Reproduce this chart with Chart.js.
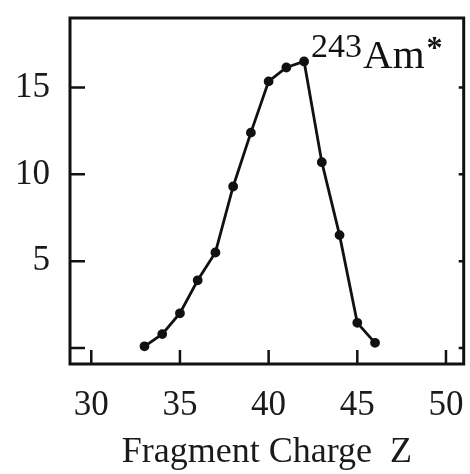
<!DOCTYPE html>
<html>
<head>
<meta charset="utf-8">
<script src="https://cdn.jsdelivr.net/npm/chart.js@4.4.1/dist/chart.umd.min.js"></script>
<style>
  html, body { margin: 0; padding: 0; background: #fff; }
  #wrap { width: 470px; height: 474px; }
</style>
</head>
<body>
<div id="wrap"><canvas id="yieldChart"></canvas></div>
<script>
// fragment charge Z and yield
const chargeZ = [33, 34, 35, 36, 37, 38, 39, 40, 41, 42, 43, 44, 45, 46];
const yieldValues = [0.1, 0.8, 2.0, 3.9, 5.5, 9.3, 12.4, 15.35, 16.15, 16.5, 10.7, 6.5, 1.45, 0.3];
const xTickValues = [30, 35, 40, 45, 50];
const yTickValues = [0, 5, 10, 15];
const peakLabel = { sup: '243', main: 'Am', star: '*' };

const serif = "'Liberation Serif', 'DejaVu Serif', serif";

// frame, inward ticks and the nucleus label
const framePlugin = {
    id: 'frame',
    afterDraw(chart) {
        const { ctx, chartArea: a, scales } = chart;
        ctx.save();
        ctx.strokeStyle = '#111';
        ctx.lineWidth = 3;
        ctx.strokeRect(a.left, a.top, a.right - a.left, a.bottom - a.top);

        ctx.lineWidth = 2.5;
        ctx.beginPath();
        yTickValues.forEach(v => {
            const y = scales.y.getPixelForValue(v);
            ctx.moveTo(a.left, y);
            ctx.lineTo(a.left + 15, y);
            ctx.moveTo(a.right, y);
            ctx.lineTo(a.right - 5, y);
        });
        xTickValues.forEach(v => {
            const x = scales.x.getPixelForValue(v);
            ctx.moveTo(x, a.bottom);
            ctx.lineTo(x, a.bottom - 14);
        });
        ctx.stroke();

        // label anchored at the peak point
        const i = yieldValues.indexOf(Math.max(...yieldValues));
        let x = scales.x.getPixelForValue(chargeZ[i]) + 7;
        const y = scales.y.getPixelForValue(yieldValues[i]);
        ctx.fillStyle = '#111';
        ctx.textBaseline = 'alphabetic';
        ctx.textAlign = 'left';
        ctx.font = '34px ' + serif;
        ctx.fillText(peakLabel.sup, x, y - 4);
        x += ctx.measureText(peakLabel.sup).width + 1;
        ctx.font = '41px ' + serif;
        ctx.fillText(peakLabel.main, x, y + 7);
        x += ctx.measureText(peakLabel.main).width + 2;
        ctx.font = 'bold 32px ' + serif;
        ctx.fillText(peakLabel.star, x, y - 3);
        ctx.restore();
    }
};

// drop the label overflow padding so the plot box sits where the figure has it
function noEdgePadding(s) {
    s.paddingTop = 0;
    s.paddingBottom = 0;
    s.paddingLeft = 0;
    s.paddingRight = 0;
}

new Chart(document.getElementById('yieldChart'), {
    type: 'scatter',
    data: {
        datasets: [{
            data: chargeZ.map((z, i) => ({ x: z, y: yieldValues[i] })),
            showLine: true,
            borderColor: '#111',
            borderWidth: 2.8,
            backgroundColor: '#111',
            pointRadius: 3.5,
            pointHoverRadius: 3.5,
            tension: 0
        }]
    },
    options: {
        responsive: true,
        maintainAspectRatio: false,
        animation: false,
        layout: { padding: { top: 18, right: 5, left: 0, bottom: 0 } },
        plugins: {
            legend: { display: false },
            tooltip: { enabled: false }
        },
        scales: {
            x: {
                type: 'linear',
                min: 28.8,
                max: 51.0,
                afterBuildTicks: s => { s.ticks = xTickValues.map(v => ({ value: v })); },
                afterFit: s => { s.height = 110; noEdgePadding(s); },
                grid: { display: false, drawTicks: false },
                border: { display: false },
                ticks: {
                    color: '#1a1a1a',
                    padding: 21,
                    maxRotation: 0,
                    font: { family: serif, size: 35 }
                },
                title: {
                    display: true,
                    text: 'Fragment Charge  Z',
                    color: '#1a1a1a',
                    padding: { top: 4, bottom: 0 },
                    font: { family: serif, size: 36 }
                }
            },
            y: {
                type: 'linear',
                min: -0.92,
                max: 19.0,
                afterBuildTicks: s => { s.ticks = yTickValues.map(v => ({ value: v })); },
                afterFit: s => { s.width = 70; noEdgePadding(s); },
                grid: { display: false, drawTicks: false },
                border: { display: false },
                ticks: {
                    color: '#1a1a1a',
                    padding: 20,
                    font: { family: serif, size: 35 },
                    callback: v => (v === 0 ? '' : v)
                }
            }
        }
    },
    plugins: [framePlugin]
});
</script>
</body>
</html>
